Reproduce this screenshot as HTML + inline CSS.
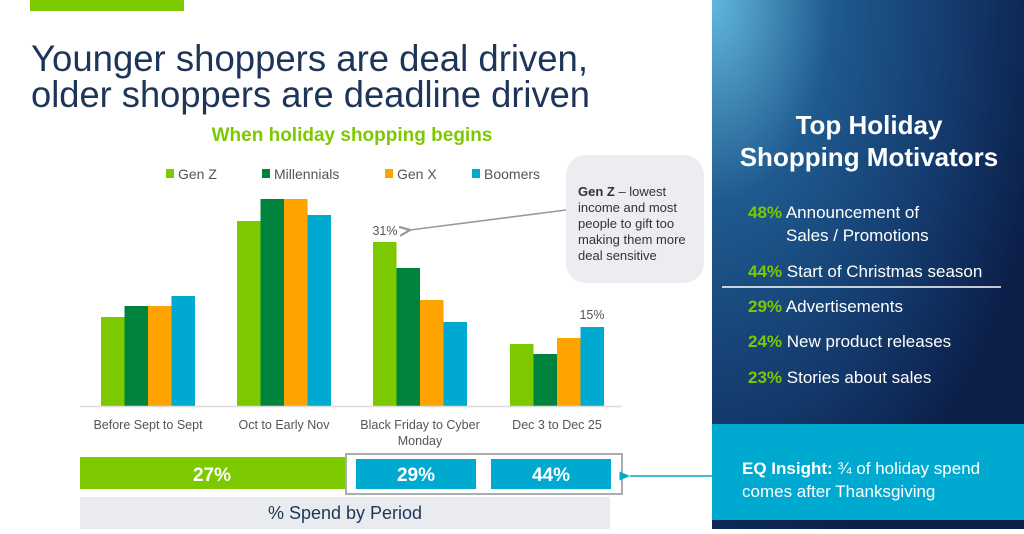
<!DOCTYPE html>
<html><head><meta charset="utf-8"><style>
body{margin:0;width:1024px;height:529px;overflow:hidden;background:#fff;font-family:"Liberation Sans",sans-serif;}
svg text{font-family:"Liberation Sans",sans-serif;}
</style></head><body>
<svg width="1024" height="529" xmlns="http://www.w3.org/2000/svg">
<defs>
<radialGradient id="g" cx="0" cy="0" r="1.1" gradientUnits="objectBoundingBox">
<stop offset="0" stop-color="#62b8dc"/><stop offset="0.35" stop-color="#1f5a8f"/><stop offset="0.7" stop-color="#143b6e"/><stop offset="1" stop-color="#0b1f48"/>
</radialGradient>
<marker id="ah" markerWidth="8" markerHeight="8" refX="1" refY="4" orient="auto"><path d="M8,1 L1,4 L8,7" fill="none" stroke="#999" stroke-width="1.5"/></marker>
<marker id="ah2" markerWidth="8" markerHeight="8" refX="1" refY="4" orient="auto"><path d="M8,1 L1,4 L8,7 z" fill="#00a9cf"/></marker>
</defs>
<rect x="30" y="0" width="154" height="11" fill="#7dc900"/>
<text x="31" y="71" font-size="37" fill="#1c3559" textLength="557" lengthAdjust="spacingAndGlyphs">Younger shoppers are deal driven,</text>
<text x="31" y="107" font-size="37" fill="#1c3559" textLength="559" lengthAdjust="spacingAndGlyphs">older shoppers are deadline driven</text>
<text x="352" y="141" font-size="19" font-weight="bold" fill="#7dc900" text-anchor="middle" style="font-family:'Liberation Sans Narrow','Liberation Sans',sans-serif">When holiday shopping begins</text>
<g font-size="14" fill="#555">
<rect x="166" y="169" width="8" height="9" fill="#7dc900"/><text x="178" y="179">Gen Z</text>
<rect x="262" y="169" width="8" height="9" fill="#00843d"/><text x="274" y="179">Millennials</text>
<rect x="385" y="169" width="8" height="9" fill="#ffa300"/><text x="397" y="179">Gen X</text>
<rect x="472" y="169" width="8" height="9" fill="#00a9cf"/><text x="484" y="179">Boomers</text>
</g>
<g>
<rect x="101" y="317" width="23.5" height="89" fill="#7dc900"/><rect x="124.5" y="306" width="23.5" height="100" fill="#00843d"/><rect x="148" y="306" width="23.5" height="100" fill="#ffa300"/><rect x="171.5" y="296" width="23.5" height="110" fill="#00a9cf"/>
<rect x="237" y="221" width="23.5" height="185" fill="#7dc900"/><rect x="260.5" y="199" width="23.5" height="207" fill="#00843d"/><rect x="284" y="199" width="23.5" height="207" fill="#ffa300"/><rect x="307.5" y="215" width="23.5" height="191" fill="#00a9cf"/>
<rect x="373" y="242" width="23.5" height="164" fill="#7dc900"/><rect x="396.5" y="268" width="23.5" height="138" fill="#00843d"/><rect x="420" y="300" width="23.5" height="106" fill="#ffa300"/><rect x="443.5" y="322" width="23.5" height="84" fill="#00a9cf"/>
<rect x="510" y="344" width="23.5" height="62" fill="#7dc900"/><rect x="533.5" y="354" width="23.5" height="52" fill="#00843d"/><rect x="557" y="338" width="23.5" height="68" fill="#ffa300"/><rect x="580.5" y="327" width="23.5" height="79" fill="#00a9cf"/>
</g>
<line x1="80" y1="406.5" x2="622" y2="406.5" stroke="#ddd" stroke-width="1.5"/>
<g font-size="12.5" fill="#555" text-anchor="middle">
<text x="385" y="235">31%</text><text x="592" y="319">15%</text>
<text x="148" y="429">Before Sept to Sept</text>
<text x="284" y="429">Oct to Early Nov</text>
<text x="420" y="429">Black Friday to Cyber</text>
<text x="420" y="445">Monday</text>
<text x="557" y="429">Dec 3 to Dec 25</text>
</g>
<rect x="566" y="155" width="138" height="128" rx="20" fill="#ebedf0"/>
<g font-size="13" fill="#333">
<text x="578" y="196"><tspan font-weight="bold">Gen Z</tspan> – lowest</text>
<text x="578" y="212">income and most</text>
<text x="578" y="228">people to gift too</text>
<text x="578" y="244">making them more</text>
<text x="578" y="260">deal sensitive</text>
</g>
<line x1="566" y1="210" x2="410" y2="230" stroke="#999" stroke-width="1.5" marker-end="url(#ah)"/>
<rect x="80" y="457" width="265" height="32" fill="#7dc900"/>
<rect x="346" y="454" width="276" height="40" fill="none" stroke="#a9aeb5" stroke-width="2"/>
<rect x="356" y="459" width="120" height="30" fill="#00a9cf"/>
<rect x="491" y="459" width="120" height="30" fill="#00a9cf"/>
<g font-size="19" font-weight="bold" fill="#fff" text-anchor="middle">
<text x="212" y="481">27%</text><text x="416" y="481">29%</text><text x="551" y="481">44%</text>
</g>
<rect x="80" y="497" width="530" height="32" fill="#e9ebee"/>
<text x="345" y="519" font-size="18" fill="#1c3559" text-anchor="middle">% Spend by Period</text>
<line x1="712" y1="476" x2="630" y2="476" stroke="#00a9cf" stroke-width="1.5" marker-end="url(#ah2)"/>
<rect x="712" y="0" width="312" height="529" fill="url(#g)"/>
<rect x="712" y="424" width="312" height="96" fill="#00a9cf"/>
<g fill="#fff" font-weight="bold" font-size="26" text-anchor="middle">
<text x="869" y="134">Top Holiday</text><text x="869" y="166">Shopping Motivators</text>
</g>
<g font-size="17" fill="#fff">
<text x="748" y="218"><tspan fill="#7dc900" font-weight="bold">48%</tspan> Announcement of</text>
<text x="786" y="241">Sales / Promotions</text>
<text x="748" y="277"><tspan fill="#7dc900" font-weight="bold">44%</tspan> Start of Christmas season</text>
<text x="748" y="312"><tspan fill="#7dc900" font-weight="bold">29%</tspan> Advertisements</text>
<text x="748" y="347"><tspan fill="#7dc900" font-weight="bold">24%</tspan> New product releases</text>
<text x="748" y="383"><tspan fill="#7dc900" font-weight="bold">23%</tspan> Stories about sales</text>
<text x="742" y="474"><tspan font-weight="bold">EQ Insight:</tspan> ¾ of holiday spend</text>
<text x="742" y="497">comes after Thanksgiving</text>
</g>
<line x1="722" y1="287" x2="1001" y2="287" stroke="#fff" stroke-width="1.5"/>
</svg>
</body></html>
